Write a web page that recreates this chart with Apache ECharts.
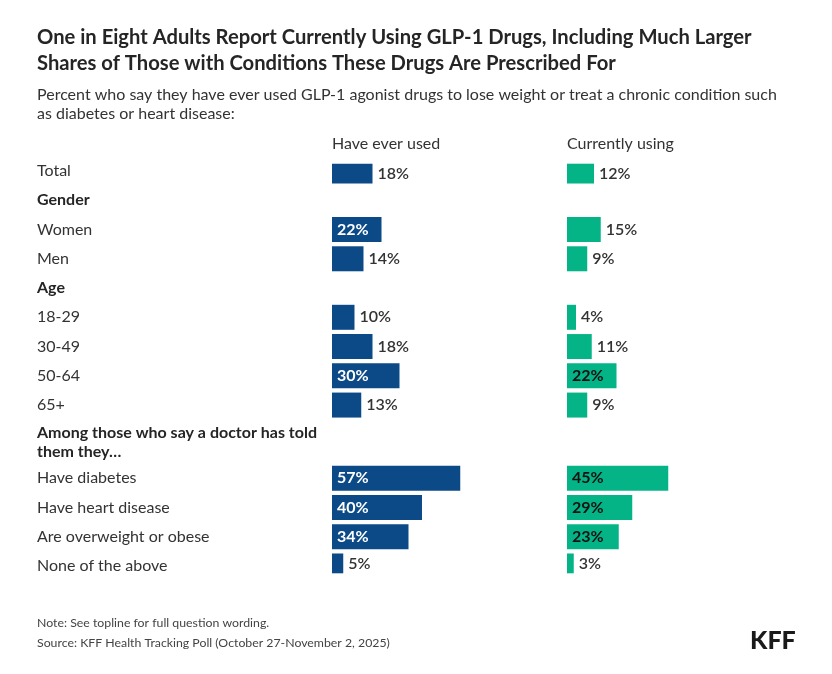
<!DOCTYPE html>
<html>
<head>
<meta charset="utf-8">
<script src="https://cdn.jsdelivr.net/npm/echarts@6/dist/echarts.min.js"></script>
<style>
  html, body { margin: 0; padding: 0; background: #fff; }
  #main { width: 832px; height: 674px; }
</style>
</head>
<body>
<div id="main"></div>
<script>
// rows, top to bottom
var rowLabels = ['Total', 'Gender', 'Women', 'Men', 'Age', '18-29', '30-49', '50-64', '65+',
  'Among those who say a doctor has told\nthem they…',
  'Have diabetes', 'Have heart disease', 'Are overweight or obese', 'None of the above']
var headerRows = ['Gender', 'Age', 'Among those who say a doctor has told\nthem they…']
var everUsed = [18, null, 22, 14, null, 10, 18, 30, 13, null, 57, 40, 34, 5]
var currentlyUsing = [12, null, 15, 9, null, 4, 11, 22, 9, null, 45, 29, 23, 3]
var columnNames = ['Have ever used', 'Currently using']

var FONT = 'Lato'
var BLUE = '#0b4a87'
var TEAL = '#04b487'

// half-row slots; a two-line header takes an extra half row
var slotLabels = []
var slotEver = []
var slotCurrent = []
rowLabels.forEach(function (name, i) {
  if (i > 0) {
    slotLabels.push(''); slotEver.push(null); slotCurrent.push(null)
    if (name.indexOf('\n') >= 0) {
      slotLabels.push(''); slotEver.push(null); slotCurrent.push(null)
    }
  }
  slotLabels.push(name)
  slotEver.push(everUsed[i])
  slotCurrent.push(currentlyUsing[i])
})
var slotNames = slotLabels.map(function (n, i) { return 's' + i })

function barData (values, insideColor) {
  return values.map(function (v) {
    if (v == null) return null
    var inside = v >= 20
    return {
      value: v,
      label: {
        show: true,
        formatter: '{c}%',
        position: inside ? 'insideLeft' : 'right',
        distance: 5,
        color: inside ? insideColor : '#333',
        fontWeight: inside ? 'bold' : 600,
        fontSize: 16,
        fontFamily: FONT
      }
    }
  })
}

var myChart = echarts.init(document.getElementById('main'))
var gridTop = 163.7
var gridHeight = 409.6
var option = {
  backgroundColor: '#fff',
  animation: false,
  title: [
    {
      text: 'One in Eight Adults Report Currently Using GLP-1 Drugs, Including Much Larger\nShares of Those with Conditions These Drugs Are Prescribed For',
      left: 37, top: 24, padding: 0,
      textStyle: { fontFamily: FONT, fontSize: 20.2, fontWeight: 'bold', color: '#252525', lineHeight: 26 }
    },
    {
      text: 'Percent who say they have ever used GLP-1 agonist drugs to lose weight or treat a chronic condition such\nas diabetes or heart disease:',
      left: 37, top: 85, padding: 0,
      textStyle: { fontFamily: FONT, fontSize: 16, fontWeight: 'normal', color: '#333', lineHeight: 19 }
    },
    {
      text: columnNames[0], left: 332, top: 136, padding: 0,
      textStyle: { fontFamily: FONT, fontSize: 16, fontWeight: 'normal', color: '#333' }
    },
    {
      text: columnNames[1], left: 567, top: 136, padding: 0,
      textStyle: { fontFamily: FONT, fontSize: 16, fontWeight: 'normal', color: '#333' }
    },
    {
      text: 'Note: See topline for full question wording.\nSource: KFF Health Tracking Poll (October 27-November 2, 2025)',
      left: 37, top: 613, padding: 0,
      textStyle: { fontFamily: FONT, fontSize: 12.3, fontWeight: 'normal', color: '#444', lineHeight: 20 }
    },
    {
      text: 'KFF', left: 750, top: 628, padding: 0,
      textStyle: { fontFamily: FONT, fontSize: 25, fontWeight: 900, color: '#1a1a1a' }
    }
  ],
  grid: [
    { left: 332, width: 225, top: gridTop, height: gridHeight },
    { left: 567, width: 225, top: gridTop, height: gridHeight }
  ],
  xAxis: [
    { gridIndex: 0, type: 'value', min: 0, max: 100, show: false },
    { gridIndex: 1, type: 'value', min: 0, max: 100, show: false }
  ],
  yAxis: [
    {
      gridIndex: 0, type: 'category', inverse: true, data: slotNames,
      axisLine: { show: false }, axisTick: { show: false }, splitLine: { show: false },
      axisLabel: {
        interval: 0, align: 'left', margin: 295,
        formatter: function (val, idx) {
          var name = slotLabels[idx]
          if (!name) return ''
          if (headerRows.indexOf(name) >= 0) {
            return name.indexOf('\n') >= 0 ? '{h2|' + name + '}' : '{h|' + name + '}'
          }
          return '{n|' + name + '}'
        },
        rich: {
          n: { fontFamily: FONT, fontSize: 16, color: '#333' },
          h: { fontFamily: FONT, fontSize: 16, fontWeight: 'bold', color: '#252525' },
          h2: { fontFamily: FONT, fontSize: 16, fontWeight: 'bold', color: '#252525', lineHeight: 19, padding: [0, 0, 13, 0] }
        }
      }
    },
    {
      gridIndex: 1, type: 'category', inverse: true, data: slotNames,
      axisLine: { show: false }, axisTick: { show: false }, axisLabel: { show: false }, splitLine: { show: false }
    }
  ],
  series: [
    {
      name: columnNames[0], type: 'bar', xAxisIndex: 0, yAxisIndex: 0,
      barWidth: 25, itemStyle: { color: BLUE },
      data: barData(slotEver, '#fff')
    },
    {
      name: columnNames[1], type: 'bar', xAxisIndex: 1, yAxisIndex: 1,
      barWidth: 25, itemStyle: { color: TEAL },
      data: barData(slotCurrent, '#111')
    }
  ]
}
myChart.setOption(option)
</script>
</body>
</html>
